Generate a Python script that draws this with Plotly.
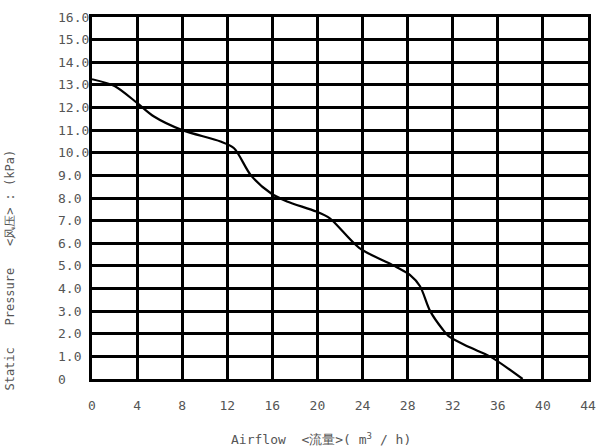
import plotly.graph_objects as go

# curve data (airflow m3/h, static pressure kPa)
airflow = [0, 2, 4, 5.5, 8, 11.4, 12.6, 14.1, 15.9, 17.3, 19.9, 21.1, 23.7, 27.0, 28.2, 29.1, 30.0, 31.1, 31.7, 33.5, 35.3, 38.2]
pressure = [13.25, 12.95, 12.2, 11.6, 11.0, 10.5, 10.2, 9.0, 8.2, 7.85, 7.4, 7.1, 5.8, 4.95, 4.6, 4.1, 3.0, 2.2, 1.87, 1.4, 1.0, 0]

x_ticks = list(range(0, 45, 4))
y_ticks = list(range(0, 17))
y_labels = ["0"] + [f"{v}.0" for v in y_ticks[1:]]

FONT = "DejaVu Sans Mono, monospace"
GRAY = "#555555"

fig = go.Figure()
fig.add_trace(go.Scatter(x=airflow, y=pressure, mode="lines",
                         line=dict(color="black", width=2.2, shape="spline", smoothing=0.8),
                         showlegend=False, hoverinfo="skip"))

fig.update_layout(
    width=607, height=447,
    margin=dict(l=92, r=19, t=17, b=68),
    paper_bgcolor="white", plot_bgcolor="white",
    font=dict(family=FONT, color=GRAY, size=13),
    xaxis=dict(range=[0, 44], tickvals=x_ticks, ticktext=[str(v) for v in x_ticks],
               showgrid=True, gridcolor="black", gridwidth=2.6,
               showline=True, linecolor="black", linewidth=2.6, mirror=True,
               ticks="outside", ticklen=13, tickcolor="rgba(0,0,0,0)",
               zeroline=False, tickfont=dict(family=FONT, size=13, color=GRAY)),
    yaxis=dict(range=[0, 16], tickvals=y_ticks, showticklabels=False,
               showgrid=True, gridcolor="black", gridwidth=2.6,
               showline=True, linecolor="black", linewidth=2.6, mirror=True,
               zeroline=False),
)

for v, lab in zip(y_ticks, y_labels):
    fig.add_annotation(x=-0.072, xref="paper", y=v, yref="y", text=lab,
                       showarrow=False, xanchor="left", yanchor="middle",
                       font=dict(family=FONT, size=13, color=GRAY))

fig.add_annotation(x=0.276, xref="paper", y=-0.165, yref="paper",
                   text="Airflow  <流量>( m<sup>3</sup> / h)",
                   showarrow=False, xanchor="left", yanchor="middle",
                   font=dict(family=FONT, size=13, color=GRAY))

fig.add_annotation(x=-0.165, xref="paper", y=0.30, yref="paper",
                   text="Static   Pressure   <风压> : (kPa)", textangle=-90,
                   showarrow=False, xanchor="center", yanchor="middle",
                   font=dict(family=FONT, size=12, color=GRAY))

fig.write_html("out.html", config={"displayModeBar": False})

# remove the default page margin so the figure sits at the window's top-left corner
with open("out.html", encoding="utf-8") as f:
    html = f.read()
html = html.replace("<head>", "<head><style>body{margin:0;padding:0;overflow:hidden;}</style>", 1)
with open("out.html", "w", encoding="utf-8") as f:
    f.write(html)
